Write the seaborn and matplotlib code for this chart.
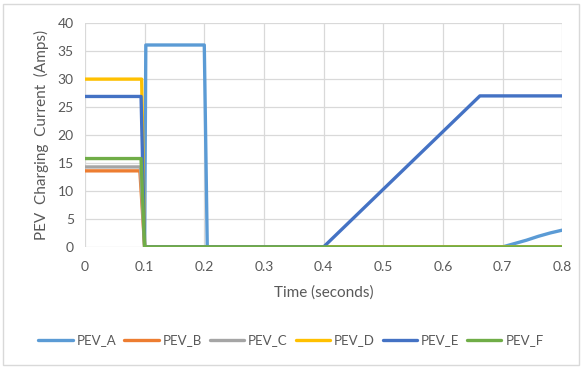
import matplotlib
matplotlib.use("Agg")
import matplotlib.pyplot as plt
from matplotlib.patches import Rectangle
import pandas as pd
import seaborn as sns

# Charging current per vehicle (Amps) against time (seconds)
series_names = ["PEV_A", "PEV_B", "PEV_C", "PEV_D", "PEV_E", "PEV_F"]

t_a = [0.1, 0.102, 0.2, 0.205, 0.70, 0.72, 0.74, 0.76, 0.78, 0.80]
i_a = [0.0, 36.1, 36.1, 0.0, 0.0, 0.6, 1.2, 1.9, 2.5, 3.0]

t_b = [0.0, 0.092, 0.1, 0.8]
i_b = [13.6, 13.6, 0.0, 0.0]

t_c = [0.0, 0.093, 0.1, 0.8]
i_c = [14.3, 14.3, 0.0, 0.0]

t_d = [0.0, 0.095, 0.1, 0.8]
i_d = [30.0, 30.0, 0.0, 0.0]

t_e = [0.0, 0.094, 0.1, 0.4, 0.662, 0.8]
i_e = [26.9, 26.9, 0.0, 0.0, 27.0, 27.0]

t_f = [0.0, 0.094, 0.1, 0.8]
i_f = [15.8, 15.8, 0.0, 0.0]

x_ticks = [0, 0.1, 0.2, 0.3, 0.4, 0.5, 0.6, 0.7, 0.8]
x_tick_labels = ["0", "0.1", "0.2", "0.3", "0.4", "0.5", "0.6", "0.7", "0.8"]
y_ticks = [0, 5, 10, 15, 20, 25, 30, 35, 40]

colors = ["#5B9BD5", "#ED7D31", "#A5A5A5", "#FFC000", "#4472C4", "#70AD47"]

frames = []
for name, t, i in zip(series_names,
                      [t_a, t_b, t_c, t_d, t_e, t_f],
                      [i_a, i_b, i_c, i_d, i_e, i_f]):
    frames.append(pd.DataFrame({"time": t, "current": i, "vehicle": name}))
data = pd.concat(frames, ignore_index=True)

sns.set_theme(style="white")
plt.rcParams["font.family"] = ["Lato", "DejaVu Sans"]

fig = plt.figure(figsize=(5.82, 3.68), dpi=100)
ax = fig.add_axes([0.146, 0.329, 0.820, 0.608])

sns.lineplot(data=data, x="time", y="current", hue="vehicle",
             hue_order=series_names, palette=colors, estimator=None,
             sort=False, linewidth=2.4, ax=ax, legend=True)

ax.set_xlim(0, 0.8)
ax.set_ylim(0, 40)
ax.set_xticks(x_ticks)
ax.set_xticklabels(x_tick_labels)
ax.set_yticks(y_ticks)
ax.grid(True, color="#D9D9D9", linewidth=0.9)
ax.set_axisbelow(True)
for s in ax.spines.values():
    s.set_visible(False)
ax.tick_params(axis="both", length=0, labelsize=10, colors="#595959", pad=8)
ax.tick_params(axis="x", pad=10)

ax.set_xlabel("Time (seconds)", fontsize=11, color="#595959", labelpad=9)
ax.set_ylabel("PEV  Charging  Current  (Amps)", fontsize=11, color="#595959", labelpad=6)

handles, labels = ax.get_legend_handles_labels()
ax.legend(handles, labels, loc="center", bbox_to_anchor=(0.5, 0.075),
          bbox_transform=fig.transFigure, ncol=6, frameon=False,
          fontsize=9.5, labelcolor="#595959", handlelength=2.6,
          handletextpad=0.3, columnspacing=0.6)

fig.patches.append(Rectangle((0.006, 0.008), 0.988, 0.982, transform=fig.transFigure,
                             fill=False, edgecolor="#D9D9D9", linewidth=1.0))

fig.savefig("out.png", dpi=100, facecolor="white")
